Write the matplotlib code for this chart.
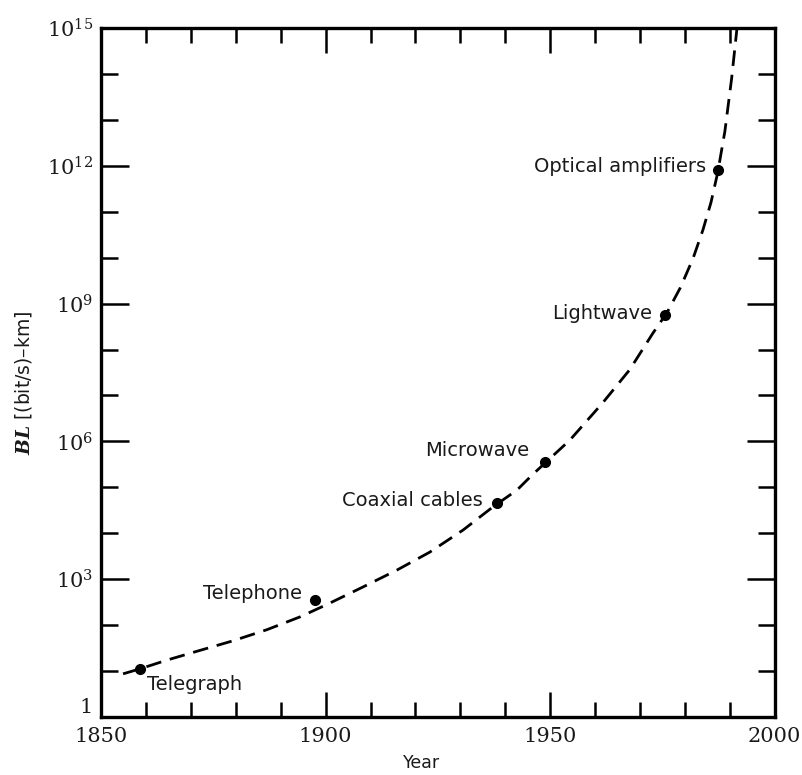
import matplotlib
matplotlib.use("Agg")
import matplotlib.pyplot as plt
from matplotlib.ticker import FixedLocator, NullFormatter, FixedFormatter

# ---- data ----
milestones = ["Telegraph", "Telephone", "Coaxial cables", "Microwave",
              "Lightwave", "Optical amplifiers"]
milestone_years = [1858.7, 1897.6, 1938.1, 1948.8, 1975.5, 1987.3]
milestone_bl = [11, 355, 4.6e4, 3.5e5, 5.6e8, 8.1e11]

trend_years = [1854.9, 1858.7, 1864.7, 1872.0, 1879.4, 1886.9, 1894.3, 1900.3,
               1908.3, 1915.9, 1923.2, 1930.6, 1937.2, 1942.6, 1946.1,
               1954.4, 1961.7, 1967.7, 1972.9, 1976.0, 1979.0, 1981.8, 1984.0,
               1985.8, 1987.3, 1988.9, 1990.4, 1991.6]
trend_log_bl = [0.94, 1.05, 1.24, 1.45, 1.66, 1.90, 2.18, 2.45,
                2.83, 3.20, 3.59, 4.07, 4.57, 4.94, 5.28,
                6.03, 6.84, 7.56, 8.36, 8.80, 9.35, 9.98, 10.60,
                11.20, 11.85, 12.75, 13.90, 15.0]

x_major = [1850, 1900, 1950, 2000]
x_minor = [1860, 1870, 1880, 1890, 1910, 1920, 1930, 1940, 1960, 1970, 1980, 1990]
y_major_exp = [0, 3, 6, 9, 12, 15]
y_major_labels = ["1", r"$10^{3}$", r"$10^{6}$", r"$10^{9}$", r"$10^{12}$", r"$10^{15}$"]
y_minor_exp = [1, 2, 4, 5, 7, 8, 10, 11, 13, 14]

# ---- figure ----
plt.rcParams['mathtext.fontset'] = 'dejavuserif'
fig = plt.figure(figsize=(8.02, 7.75), dpi=100)
ax = fig.add_axes([0.126, 0.0748, 0.840, 0.8891])

trend_bl = [10 ** v for v in trend_log_bl]
line, = ax.plot(trend_years, trend_bl, color="black", lw=2.0)
line.set_dashes((5.6, 3.2))
ax.plot(milestone_years, milestone_bl, "o", color="black", ms=7)

offsets = [(5, -11, "left"), (-9.4, 4.3, "right"), (-10, 1.4, "right"),
           (-11, 8.6, "right"), (-9.4, 1.4, "right"), (-8.6, 2.2, "right")]
for name, xv, yv, (dx, dy, ha) in zip(milestones, milestone_years, milestone_bl, offsets):
    ax.annotate(name, (xv, yv), xytext=(dx, dy), textcoords="offset points",
                ha=ha, va="center", fontsize=14, family="DejaVu Sans",
                color="#1a1a1a")

ax.set_yscale("log")
ax.set_xlim(1850, 2000)
ax.set_ylim(1, 1e15)

ax.xaxis.set_major_locator(FixedLocator(x_major))
ax.xaxis.set_minor_locator(FixedLocator(x_minor))
ax.yaxis.set_major_locator(FixedLocator([10 ** e for e in y_major_exp]))
ax.yaxis.set_major_formatter(FixedFormatter(y_major_labels))
ax.yaxis.set_minor_locator(FixedLocator([10 ** e for e in y_minor_exp]))
ax.yaxis.set_minor_formatter(NullFormatter())

for lab in ax.get_xticklabels() + ax.get_yticklabels():
    lab.set_family("DejaVu Serif")
    lab.set_fontsize(15)
    lab.set_color("#1a1a1a")
ax.get_yticklabels()[0].set_verticalalignment("bottom")

ax.tick_params(axis="both", which="both", direction="in", top=True, right=True,
               width=1.8, color="black")
ax.tick_params(axis="x", which="major", length=18, pad=7)
ax.tick_params(axis="x", which="minor", length=11)
ax.tick_params(axis="y", which="major", length=20, pad=6)
ax.tick_params(axis="y", which="minor", length=12)
for s in ax.spines.values():
    s.set_linewidth(2.4)

fig.text(422 / 802, 1 - 763 / 775, "Year", ha="center", va="center",
         fontsize=12.5, family="DejaVu Sans", color="#1a1a1a")
fig.text(23 / 802, 1 - 383 / 775, r"$\mathbfit{BL}$ [(bit/s)–km]", rotation=90,
         ha="center", va="center", fontsize=13.5, family="DejaVu Sans",
         color="#1a1a1a")

fig.savefig("out.png", dpi=100)
